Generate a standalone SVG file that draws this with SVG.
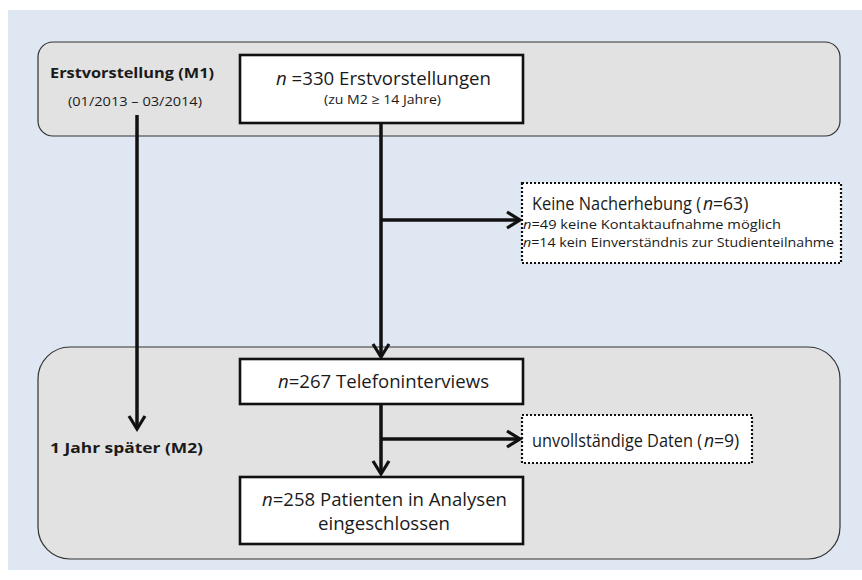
<svg xmlns="http://www.w3.org/2000/svg" width="862" height="580" viewBox="0 0 862 580">
<style>
text{font-family:"Open Sans","Noto Sans","DejaVu Sans",sans-serif;fill:#1a1a1a}
.big{font-size:17.6px}
.sm{font-size:13px}
.xs{font-size:13.2px}
.b{font-weight:bold;font-size:15px}
.i{font-style:italic}
.grp{fill:#e2e2e2;stroke:#333;stroke-width:1.2}
.box{fill:#fff;stroke:#111;stroke-width:2.6}
.dot{fill:#fff;stroke:#111;stroke-width:2.2;stroke-dasharray:2 2}
.ln{fill:none;stroke:#111;stroke-width:3.5}
</style>
<defs>
<marker id="ah" markerUnits="userSpaceOnUse" viewBox="0 0 16 18" refX="15" refY="9" markerWidth="16" markerHeight="18" orient="auto" overflow="visible">
<path d="M2 1 L15 9 L2 17" fill="none" stroke="#111" stroke-width="3.2"/>
</marker>
</defs>
<rect x="8" y="10" width="854" height="560" fill="#dfe8f2"/>
<g id="phase-m1">
<rect class="grp" x="38" y="42" width="802" height="94" rx="15"/>
<text class="b" x="50" y="78" textLength="164" lengthAdjust="spacingAndGlyphs">Erstvorstellung (M1)</text>
<text class="xs" x="68" y="106" textLength="134" lengthAdjust="spacingAndGlyphs">(01/2013 – 03/2014)</text>
</g>
<g id="phase-m2">
<rect class="grp" x="38" y="347" width="802" height="212" rx="32"/>
<text class="b" x="50" y="453" textLength="153" lengthAdjust="spacingAndGlyphs">1 Jahr später (M2)</text>
</g>
<g id="node-erst">
<rect class="box" x="240" y="55" width="283" height="68"/>
<text class="big" x="276" y="85" textLength="215" lengthAdjust="spacingAndGlyphs"><tspan class="i">n</tspan> =330 Erstvorstellungen</text>
<text class="xs" x="324" y="104" textLength="117" lengthAdjust="spacingAndGlyphs">(zu M2 ≥ 14 Jahre)</text>
</g>
<g id="node-keine">
<rect class="dot" x="522" y="183" width="319" height="80"/>
<text class="big" y="210"><tspan x="532" textLength="169" lengthAdjust="spacingAndGlyphs">Keine Nacherhebung (</tspan><tspan class="i" x="703">n</tspan><tspan x="713">=63)</tspan></text>
<text class="sm" x="523" y="229" textLength="258" lengthAdjust="spacingAndGlyphs"><tspan class="i">n</tspan>=49 keine Kontaktaufnahme möglich</text>
<text class="sm" x="523" y="247" textLength="311" lengthAdjust="spacingAndGlyphs"><tspan class="i">n</tspan>=14 kein Einverständnis zur Studienteilnahme</text>
</g>
<g id="node-tel">
<rect class="box" x="240" y="359" width="283" height="45"/>
<text class="big" x="278" y="388" textLength="211" lengthAdjust="spacingAndGlyphs"><tspan class="i">n</tspan>=267 Telefoninterviews</text>
</g>
<g id="node-unv">
<rect class="dot" x="522" y="415" width="230" height="48"/>
<text class="big" y="447"><tspan x="532" textLength="170" lengthAdjust="spacingAndGlyphs">unvollständige Daten (</tspan><tspan class="i" x="704">n</tspan><tspan x="714">=9)</tspan></text>
</g>
<g id="node-pat">
<rect class="box" x="240" y="477" width="283" height="67"/>
<text class="big" x="262" y="506" textLength="245" lengthAdjust="spacingAndGlyphs"><tspan class="i">n</tspan>=258 Patienten in Analysen</text>
<text class="big" x="318" y="530" textLength="132" lengthAdjust="spacingAndGlyphs">eingeschlossen</text>
</g>
<g id="connectors">
<line class="ln" x1="137" y1="115" x2="137" y2="429" marker-end="url(#ah)"/>
<line class="ln" x1="381" y1="123" x2="381" y2="357" marker-end="url(#ah)"/>
<line class="ln" x1="381" y1="220" x2="520" y2="220" marker-end="url(#ah)"/>
<line class="ln" x1="381" y1="404" x2="381" y2="474" marker-end="url(#ah)"/>
<line class="ln" x1="381" y1="439" x2="520" y2="439" marker-end="url(#ah)"/>
</g>
</svg>
